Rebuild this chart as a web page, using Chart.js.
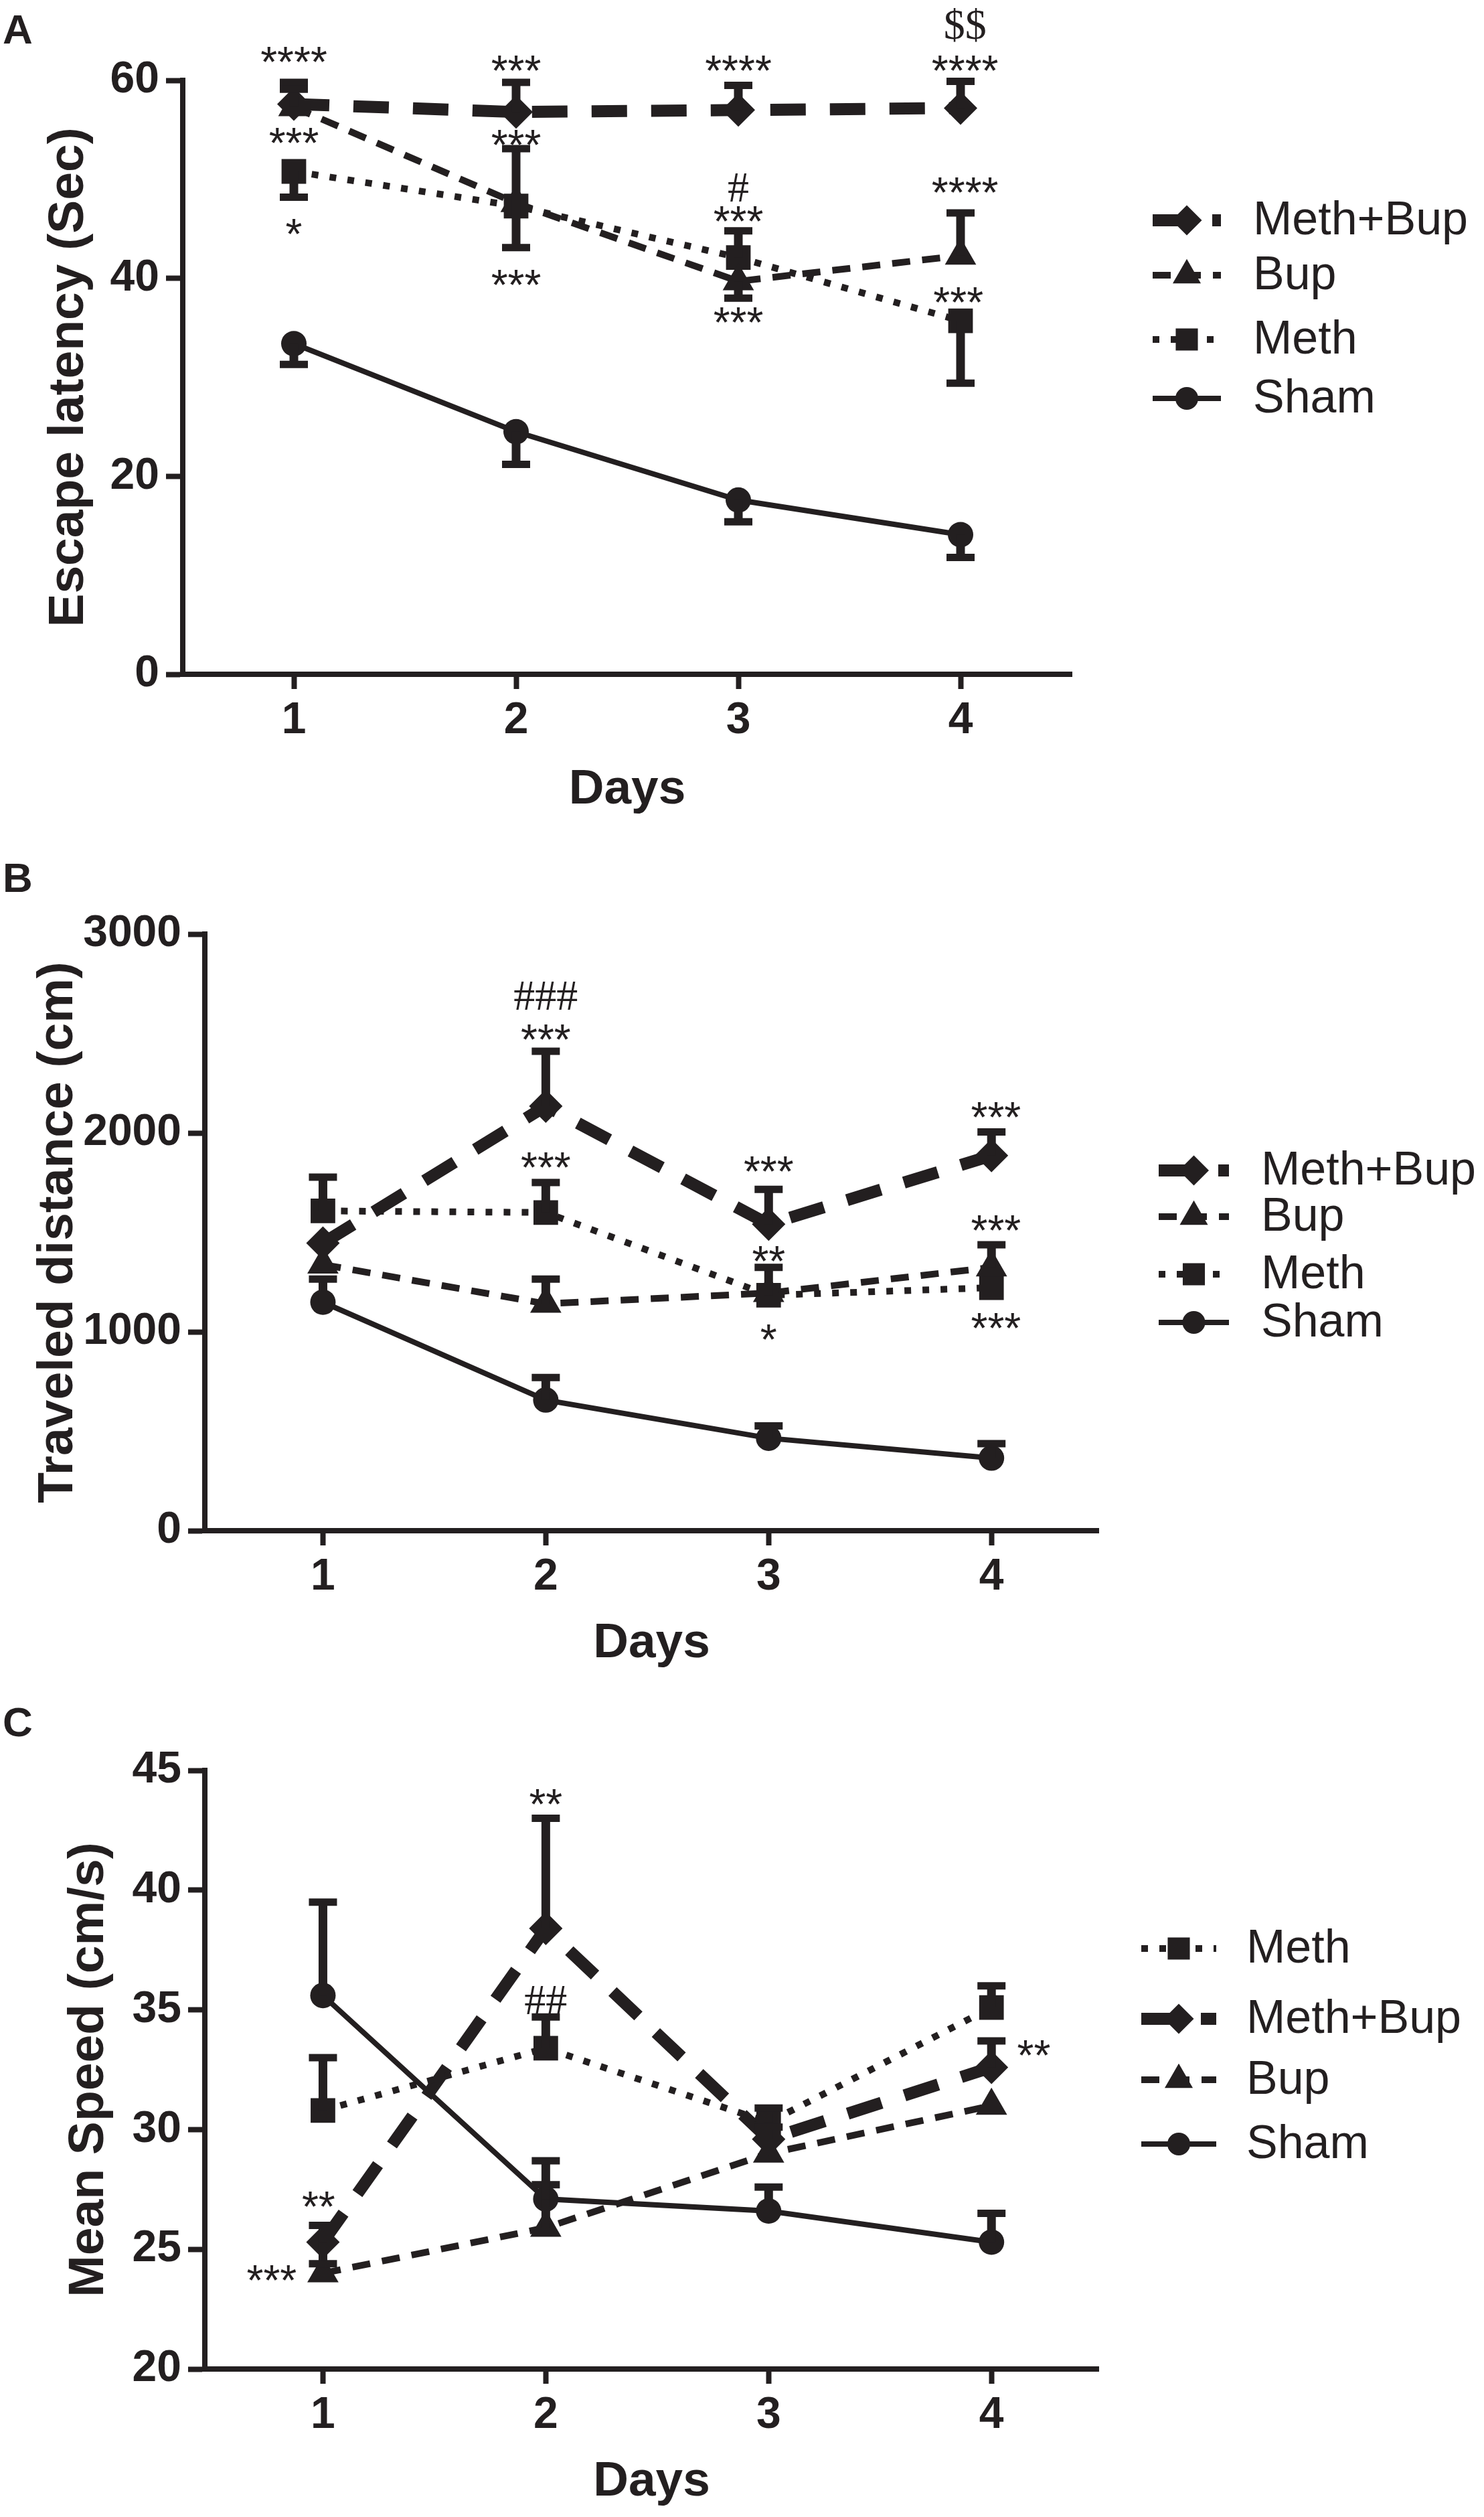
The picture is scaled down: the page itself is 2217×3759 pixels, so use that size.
<!DOCTYPE html>
<html>
<head>
<meta charset="utf-8">
<script src="https://cdn.jsdelivr.net/npm/chart.js@4.4.1/dist/chart.umd.min.js"></script>
<style>
  html, body { margin: 0; padding: 0; background: #fff; }
  body { width: 2217px; height: 3759px; position: relative; overflow: hidden; }
  .panel { position: absolute; left: 0; }
  .letter { position: absolute; left: 4px; font: bold 62px "Liberation Sans", Arial, sans-serif; color: #231f20; }
</style>
</head>
<body>
<div class="letter" style="top:8px">A</div>
<div class="letter" style="top:1275px">B</div>
<div class="letter" style="top:2536px">C</div>
<canvas id="panelA" class="panel" style="top:0px" width="2217" height="1250"></canvas>
<canvas id="panelB" class="panel" style="top:1250px" width="2217" height="1250"></canvas>
<canvas id="panelC" class="panel" style="top:2500px" width="2217" height="1259"></canvas>
<script>
const DAYS = [1, 2, 3, 4];

// A - escape latency (sec)
const latMethBup = [57.6, 56.8, 57.0, 57.2];
const latMethBupUp = [2.2, 3.0, 2.5, 2.7];
const latBup = [57.3, 47.6, 39.7, 42.3];
const latBupUp = [1.8, 0, 0, 4.3];
const latBupDown = [0, 4.5, 1.7, 0];
const latMeth = [50.8, 47.3, 42.1, 35.7];
const latMethUp = [0, 5.8, 2.7, 0];
const latMethDown = [2.6, 0, 0, 6.3];
const latSham = [33.4, 24.5, 17.6, 14.1];
const latShamDown = [2.1, 3.3, 2.2, 2.3];
const latTicks = [0, 20, 40, 60];
const latMarks = [
  [1, 62.6, '****'], [1, 54.4, '***'], [1, 45.2, '*'],
  [2, 61.7, '***'], [2, 54.2, '***'], [2, 40.1, '***'],
  [3, 61.7, '****'], [3, 49.2, '#', true], [3, 46.5, '***'], [3, 36.3, '***'],
  [4.02, 65.6, '$$', true], [4.02, 61.7, '****'], [4.02, 49.4, '****'], [3.99, 38.3, '***']
];

// B - traveled distance (cm)
const distMethBup = [1446, 2135, 1541, 1886];
const distMethBupUp = [0, 276, 175, 119];
const distBup = [1338, 1141, 1195, 1324];
const distBupUp = [0, 124, 0, 114];
const distMeth = [1608, 1600, 1184, 1222];
const distMethUp = [170, 151, 140, 0];
const distSham = [1149, 657, 465, 365];
const distShamUp = [116, 113, 62, 73];
const distTicks = [0, 1000, 2000, 3000];
const distMarks = [
  [2, 2689, '###', true], [2, 2508, '***'], [2, 1865, '***'],
  [3, 1843, '***'], [3, 1392, '**'], [3, 1000, '*'],
  [4.02, 2116, '***'], [4.02, 1546, '***'], [4.02, 1054, '***']
];

// C - mean speed (cm/s)
const spdMeth = [30.8, 33.4, 30.3, 35.1];
const spdMethUp = [2.2, 1.3, 0.6, 0.9];
const spdMethBup = [25.3, 38.4, 29.6, 32.6];
const spdMethBupUp = [0.7, 4.6, 0.5, 1.1];
const spdMethBupDown = [0.9, 0, 0, 0];
const spdBup = [24.0, 25.9, 29.0, 31.0];
const spdBupUp = [0, 1.8, 0, 0];
const spdSham = [35.6, 27.1, 26.6, 25.3];
const spdShamUp = [3.9, 1.6, 1.0, 1.2];
const spdTicks = [20, 25, 30, 35, 40, 45];
const spdMarks = [
  [0.98, 27.1, '**'], [0.77, 24.0, '***'],
  [2, 43.9, '**'], [2, 35.4, '##', true],
  [4.19, 33.4, '**']
];

const INK = '#231f20';
const SANS = '"Liberation Sans", Arial, sans-serif';
const SERIF = '"Liberation Serif", "Times New Roman", serif';

const styles = {
  'Meth+Bup': { borderWidth: 18, borderDash: [53, 36], pointStyle: 'rectRot', pointRadius: 25 },
  'Bup':      { borderWidth: 10, borderDash: [27, 18], pointStyle: 'triangle', pointRadius: 27 },
  'Meth':     { borderWidth: 10, borderDash: [10, 17], pointStyle: 'rect', pointRadius: 26 },
  'Sham':     { borderWidth: 8,  borderDash: [],       pointStyle: 'circle', pointRadius: 19 }
};

function series(label, values, up, down) {
  return Object.assign({
    label: label,
    data: DAYS.map((d, i) => ({ x: d, y: values[i] })),
    errUp: up || [], errDown: down || [],
    borderColor: INK, backgroundColor: INK,
    pointBackgroundColor: INK, pointBorderWidth: 0,
    tension: 0, fill: false, clip: false
  }, styles[label]);
}

const errorBars = {
  id: 'errorBars',
  afterDatasetsDraw(chart) {
    const ctx = chart.ctx, xs = chart.scales.x, ys = chart.scales.y;
    ctx.save();
    ctx.strokeStyle = INK;
    chart.data.datasets.forEach(ds => {
      ds.data.forEach((p, i) => {
        const px = xs.getPixelForValue(p.x);
        [[ds.errUp[i], 1], [ds.errDown[i], -1]].forEach(([e, dir]) => {
          if (!e) return;
          const y0 = ys.getPixelForValue(p.y);
          const y1 = ys.getPixelForValue(p.y + dir * e);
          ctx.lineWidth = 13;
          ctx.beginPath(); ctx.moveTo(px, y0); ctx.lineTo(px, y1); ctx.stroke();
          ctx.lineWidth = 11;
          ctx.beginPath(); ctx.moveTo(px - 21, y1); ctx.lineTo(px + 21, y1); ctx.stroke();
        });
      });
    });
    ctx.restore();
  }
};

const marksPlugin = {
  id: 'marks',
  afterDraw(chart, args, opts) {
    const ctx = chart.ctx, xs = chart.scales.x, ys = chart.scales.y;
    ctx.save();
    ctx.fillStyle = INK;
    ctx.textAlign = 'center';
    ctx.textBaseline = 'alphabetic';
    opts.items.forEach(([x, y, text, serif]) => {
      ctx.font = (serif ? '64px ' + SERIF : '64px ' + SANS);
      const m = ctx.measureText(text);
      const base = ys.getPixelForValue(y) + (m.actualBoundingBoxAscent - m.actualBoundingBoxDescent) / 2;
      ctx.fillText(text, xs.getPixelForValue(x), base);
    });
    ctx.restore();
  }
};

function marker(ctx, style, r, x, y) {
  ctx.beginPath();
  if (style === 'circle') {
    ctx.arc(x, y, r, 0, Math.PI * 2);
  } else if (style === 'rect') {
    const h = r * Math.SQRT1_2;
    ctx.rect(x - h, y - h, 2 * h, 2 * h);
  } else if (style === 'rectRot') {
    ctx.moveTo(x, y - r); ctx.lineTo(x + r, y); ctx.lineTo(x, y + r); ctx.lineTo(x - r, y);
  } else if (style === 'triangle') {
    ctx.moveTo(x, y - r);
    ctx.lineTo(x + r * 0.866, y + r * 0.5);
    ctx.lineTo(x - r * 0.866, y + r * 0.5);
  }
  ctx.closePath();
  ctx.fill();
}

const sideLegend = {
  id: 'sideLegend',
  afterDraw(chart, args, opts) {
    const ctx = chart.ctx;
    ctx.save();
    chart.data.datasets.forEach((ds, i) => {
      const y = opts.rows[i];
      ctx.strokeStyle = INK;
      ctx.fillStyle = INK;
      ctx.lineWidth = ds.borderWidth;
      ctx.setLineDash(ds.borderDash);
      ctx.beginPath(); ctx.moveTo(opts.x0, y); ctx.lineTo(opts.x1, y); ctx.stroke();
      ctx.setLineDash([]);
      marker(ctx, ds.pointStyle, ds.pointRadius * 0.9, (opts.x0 + opts.x1) / 2, y);
      ctx.font = '70px ' + SANS;
      ctx.textAlign = 'left';
      ctx.textBaseline = 'middle';
      ctx.fillText(ds.label, opts.textX, y + 2);
    });
    ctx.restore();
  }
};

function makePanel(id, cfg) {
  const canvas = document.getElementById(id);
  const W = canvas.width, H = canvas.height;
  new Chart(canvas.getContext('2d'), {
    type: 'line',
    data: { datasets: cfg.datasets },
    plugins: [errorBars, marksPlugin, sideLegend],
    options: {
      responsive: false,
      animation: false,
      devicePixelRatio: 1,
      layout: { padding: { top: cfg.area.top, right: W - cfg.area.right, left: 0, bottom: 0 } },
      plugins: {
        legend: { display: false },
        tooltip: { enabled: false },
        marks: { items: cfg.marks },
        sideLegend: cfg.legend
      },
      scales: {
        x: {
          type: 'linear',
          min: cfg.xMin, max: cfg.xMax,
          afterBuildTicks: s => { s.ticks = DAYS.map(v => ({ value: v })); },
          afterFit: s => { s.height = H - cfg.area.bottom; },
          ticks: { color: INK, padding: 8, font: { family: SANS, size: 66, weight: 'bold' },
                   callback: v => String(v) },
          grid: { drawOnChartArea: false, drawTicks: true, tickLength: 22, tickWidth: 8, tickColor: INK },
          border: { display: true, width: 8, color: INK },
          title: { display: true, text: 'Days', color: INK,
                   font: { family: SANS, size: 73, weight: 'bold' },
                   padding: { top: 0, bottom: cfg.xTitlePad } }
        },
        y: {
          type: 'linear',
          min: cfg.yTicks[0], max: cfg.yTicks[cfg.yTicks.length - 1],
          afterBuildTicks: s => { s.ticks = cfg.yTicks.map(v => ({ value: v })); },
          afterFit: s => { s.width = cfg.area.left; },
          ticks: { color: INK, padding: 10, font: { family: SANS, size: 66, weight: 'bold' },
                   callback: v => String(v) },
          grid: { drawOnChartArea: false, drawTicks: true, tickLength: 25, tickWidth: 8, tickColor: INK },
          border: { display: true, width: 8, color: INK },
          title: { display: true, text: cfg.yTitle, color: INK,
                   font: { family: SANS, size: 75, weight: 'bold' },
                   padding: { top: cfg.yTitlePad, bottom: 0 } }
        }
      }
    }
  });
}

makePanel('panelA', {
  area: { left: 273, right: 1601, top: 120, bottom: 1007 },
  xMin: 0.5, xMax: 4.5,
  yTicks: latTicks,
  yTitle: 'Escape latency (Sec)', yTitlePad: 58, xTitlePad: 26,
  datasets: [
    series('Meth+Bup', latMethBup, latMethBupUp),
    series('Bup', latBup, latBupUp, latBupDown),
    series('Meth', latMeth, latMethUp, latMethDown),
    series('Sham', latSham, [], latShamDown)
  ],
  marks: latMarks,
  legend: { x0: 1722, x1: 1824, textX: 1872, rows: [329, 411, 507, 595] }
});

makePanel('panelB', {
  area: { left: 306, right: 1641, top: 145, bottom: 1036 },
  xMin: 0.47, xMax: 4.48,
  yTicks: distTicks,
  yTitle: 'Traveled distance (cm)', yTitlePad: 42, xTitlePad: 1,
  datasets: [
    series('Meth+Bup', distMethBup, distMethBupUp),
    series('Bup', distBup, distBupUp),
    series('Meth', distMeth, distMethUp),
    series('Sham', distSham, distShamUp)
  ],
  marks: distMarks,
  legend: { x0: 1731, x1: 1836, textX: 1884, rows: [498, 567, 653, 725] }
});

makePanel('panelC', {
  area: { left: 306, right: 1641, top: 144, bottom: 1038 },
  xMin: 0.47, xMax: 4.48,
  yTicks: spdTicks,
  yTitle: 'Mean Speed (cm/s)', yTitlePad: 88, xTitlePad: 8,
  datasets: [
    series('Meth', spdMeth, spdMethUp),
    series('Meth+Bup', spdMethBup, spdMethBupUp, spdMethBupDown),
    series('Bup', spdBup, spdBupUp),
    series('Sham', spdSham, spdShamUp)
  ],
  marks: spdMarks,
  legend: { x0: 1705, x1: 1817, textX: 1862, rows: [410, 515, 606, 702] }
});
</script>
</body>
</html>
